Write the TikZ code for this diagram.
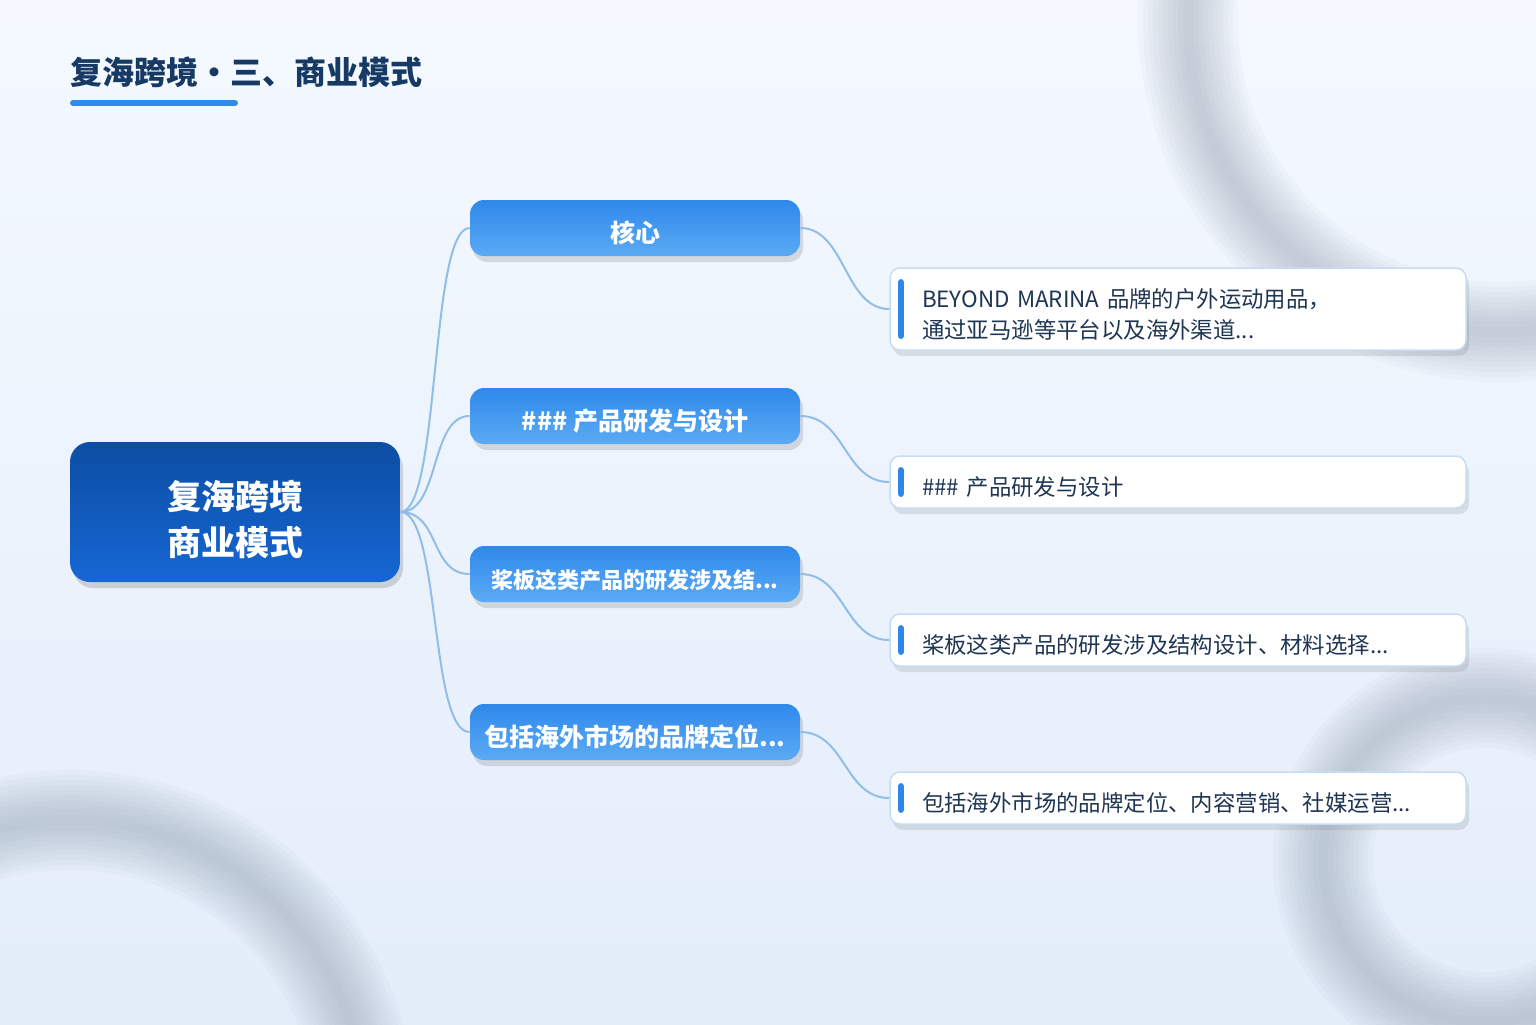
\documentclass[tikz,border=0pt]{standalone}
\usepackage{fontspec}
\setmainfont{Noto Sans CJK SC}
\usetikzlibrary{shadows}
\definecolor{bgtop}{HTML}{F5F9FF}
\definecolor{bgbottom}{HTML}{E3EDFA}
\definecolor{ringshade}{RGB}{140,152,170}
\definecolor{titlenavy}{HTML}{163A64}
\definecolor{titlebar}{HTML}{2F8CEC}
\definecolor{rootdark}{HTML}{0C4EA3}
\definecolor{rootlight}{HTML}{1666D4}
\definecolor{branchtop}{HTML}{2F89EB}
\definecolor{branchbottom}{HTML}{5BAAF4}
\definecolor{linkblue}{HTML}{90BEE8}
\definecolor{infoborder}{HTML}{C4DDF4}
\definecolor{infotext}{HTML}{1E3553}
\definecolor{accentblue}{HTML}{2F86EA}
\begin{document}
\begin{tikzpicture}[x=0.5pt, y=-0.5pt,
    titletext/.style={font=\fontsize{16}{20}\selectfont\bfseries, text=titlenavy, inner sep=0pt},
    rootbox/.style={rounded corners=10pt, minimum width=165pt, minimum height=70pt,
      top color=rootdark, bottom color=rootlight, text=white,
      text width=150pt, align=center, text height=15pt, text depth=17.1pt,
      font=\fontsize{17}{23}\selectfont\bfseries,
      drop shadow={opacity=0.3, shadow xshift=1.5pt, shadow yshift=-3pt}},
    branch/.style={rounded corners=7pt, minimum width=165pt, minimum height=28pt,
      top color=branchtop, bottom color=branchbottom, text=white,
      text height=14.5pt, text depth=0pt,
      font=\fontsize{12.5}{15}\selectfont\bfseries,
      drop shadow={opacity=0.25, shadow xshift=1.5pt, shadow yshift=-3pt}},
    info/.style={rounded corners=5pt, minimum width=288pt, minimum height=26pt,
      fill=white, draw=infoborder, line width=0.75pt, text=infotext,
      inner xsep=16pt, text width=256pt, align=left,
      text height=13.5pt, text depth=0pt,
      font=\fontsize{11.2}{15.5}\selectfont,
      drop shadow={opacity=0.2, shadow xshift=1.5pt, shadow yshift=-3pt}},
    link/.style={draw=linkblue, line width=1pt},
    accent/.style={draw=accentblue, line width=3.2pt, line cap=round}]

  % background
  \fill[top color=bgtop, bottom color=bgbottom] (0,0) rectangle (1536,1024);
  \begin{scope}
    \clip (0,0) rectangle (1536,1024);
    \foreach \cx/\cy/\r in {1500/20/312, 70/1115/295, 1485/860/162}
      \foreach \w in {10,20,...,100}
        \draw[ringshade, opacity=0.05, line width=\w*0.5pt] (\cx,\cy) circle[radius=\r];
  \end{scope}

  % title
  \node[titletext, anchor=base west] (title) at (70,84) {复海跨境・三、商业模式};
  \draw[titlebar, line width=3pt, line cap=round] ([shift={(1.5pt,-9.5pt)}]title.base west) -- ++(162,0);

  \node[rootbox] (root) at (235,512) {复海跨境\\商业模式};

  \node[branch] (core) at (635,228) {核心};
  \node[branch] (design) at (635,416) {\#\#\# 产品研发与设计};
  \node[branch, font=\fontsize{11}{13}\selectfont\bfseries] (paddle) at (635,574) {桨板这类产品的研发涉及结...};
  \node[branch] (brand) at (635,732) {包括海外市场的品牌定位...};

  \node[info, minimum height=41pt, text depth=15.5pt] (coreinfo) at (1178,309)
    {BEYOND MARINA 品牌的户外运动用品，\\通过亚马逊等平台以及海外渠道...};
  \node[info] (designinfo) at (1178,482) {\#\#\# 产品研发与设计};
  \node[info] (paddleinfo) at (1178,640) {桨板这类产品的研发涉及结构设计、材料选择...};
  \node[info] (brandinfo) at (1178,798) {包括海外市场的品牌定位、内容营销、社媒运营...};

  \foreach \b in {core,design,paddle,brand}
    \draw[link] (root.east) .. controls +(40,0) and +(-40,0) .. (\b.west);
  \foreach \b in {core,design,paddle,brand} {
    \draw[link] (\b.east) .. controls +(45,0) and +(-45,0) .. (\b info.west);
    \draw[accent] ([xshift=5.8pt, yshift=-7.5pt]\b info.north west) -- ([xshift=5.8pt, yshift=7.5pt]\b info.south west);
  }
\end{tikzpicture}
\end{document}
